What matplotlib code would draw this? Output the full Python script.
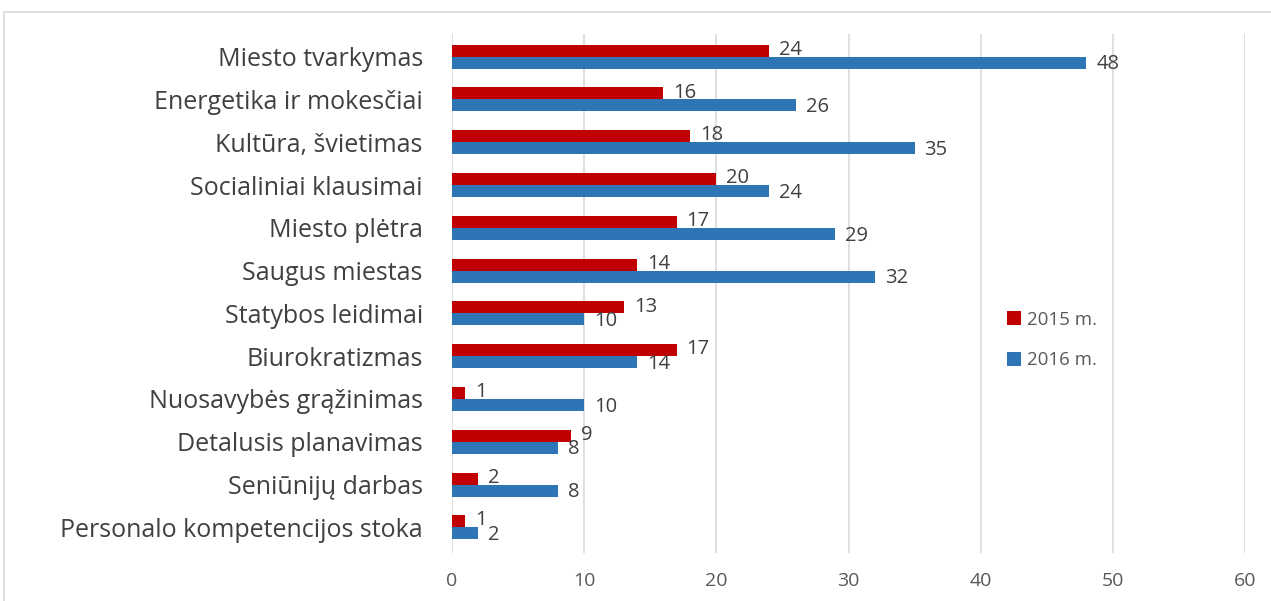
import matplotlib
matplotlib.use("Agg")
import matplotlib.pyplot as plt
import numpy as np
from matplotlib.patches import Rectangle

categories = ["Miesto tvarkymas", "Energetika ir mokesčiai", "Kultūra, švietimas",
              "Socialiniai klausimai", "Miesto plėtra", "Saugus miestas",
              "Statybos leidimai", "Biurokratizmas", "Nuosavybės grąžinimas",
              "Detalusis planavimas", "Seniūnijų darbas", "Personalo kompetencijos stoka"]
values_2015 = [24, 16, 18, 20, 17, 14, 13, 17, 1, 9, 2, 1]
values_2016 = [48, 26, 35, 24, 29, 32, 10, 14, 10, 8, 8, 2]
series_names = ["2015 m.", "2016 m."]
xticks = [0, 10, 20, 30, 40, 50, 60]

plt.rcParams['font.family'] = ['Open Sans', 'DejaVu Sans']
txt = '#404040'

fig = plt.figure(figsize=(12.71, 6.01), dpi=100)
ax = fig.add_axes([452/1271, 1-553/601, (1245-452)/1271, (553-34)/601])

y = np.arange(len(categories))
h = 0.28
b1 = ax.barh(y - h/2, values_2015, height=h, color='#C00000', label=series_names[0], zorder=3)
b2 = ax.barh(y + h/2, values_2016, height=h, color='#2E75B6', label=series_names[1], zorder=3)

for rect, v in zip(b1, values_2015):
    ax.text(rect.get_width() + 0.75, rect.get_y() + rect.get_height()/2 - 0.02, str(v),
            va='center', ha='left', fontsize=14.5, color=txt, zorder=4)
for rect, v in zip(b2, values_2016):
    ax.text(rect.get_width() + 0.75, rect.get_y() + rect.get_height()/2 + 0.04, str(v),
            va='center', ha='left', fontsize=14.5, color=txt, zorder=4)

ax.set_xlim(0, 60)
ax.set_ylim(11.6, -0.53)
ax.set_xticks(xticks)
ax.set_yticks(y)
ax.set_yticklabels(categories, fontsize=18, color=txt)
ax.tick_params(axis='x', labelsize=14, colors='#595959', length=0, pad=14)
ax.tick_params(axis='y', length=0, pad=21)
ax.grid(axis='x', color='#d9d9d9', linewidth=1.2, zorder=0)
for s in ax.spines.values():
    s.set_visible(False)

leg = ax.legend(loc='center left', bbox_to_anchor=(990/1271, 1-340/601), bbox_transform=fig.transFigure,
                frameon=False, fontsize=13.5, labelspacing=1.2, handlelength=0.75, handleheight=0.75,
                handletextpad=0.3)
for t in leg.get_texts():
    t.set_color('#595959')

fig.patches.append(Rectangle((4/1271, -0.1), 1.2, 1-12/601 + 0.1, transform=fig.transFigure,
                             fill=False, edgecolor='#d9d9d9', linewidth=1.2))

fig.savefig("out.png", dpi=100)
